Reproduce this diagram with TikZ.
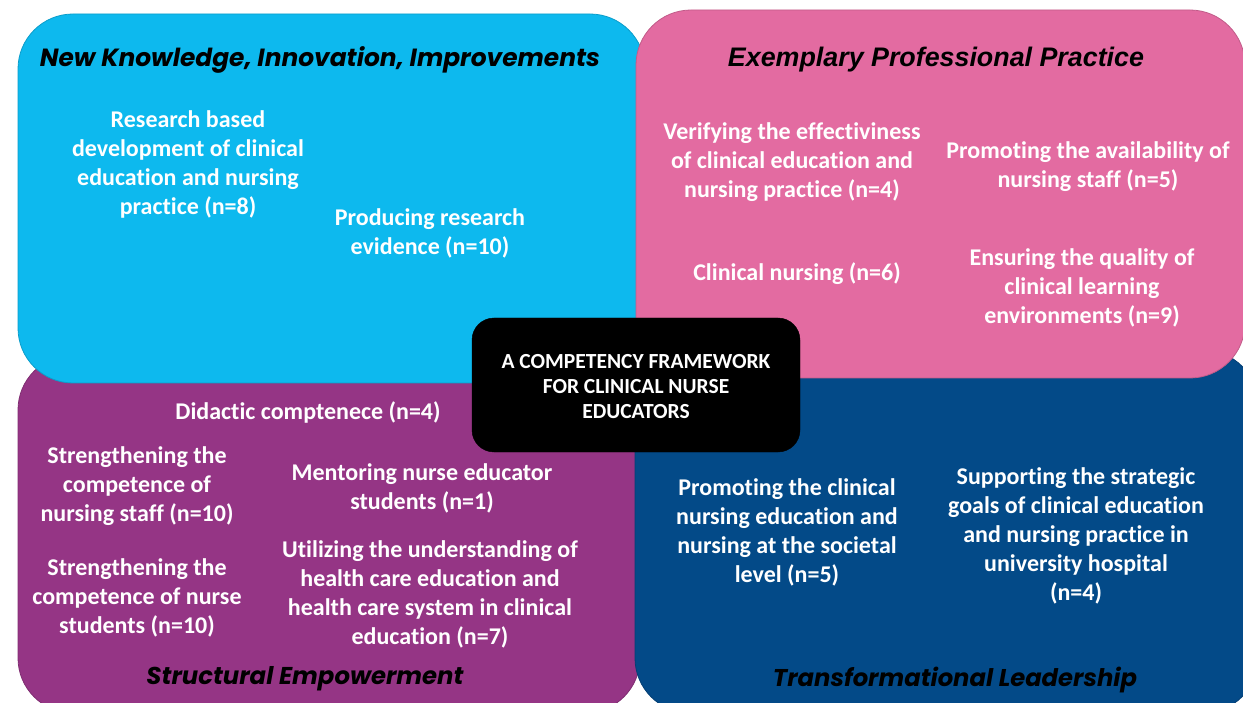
\documentclass[tikz,border=0pt]{standalone}
\usepackage{fontspec}
\setmainfont{Carlito}[Ligatures=CommonOff]
\newfontfamily\gothic{Poppins}
\newfontfamily\arialf{Liberation Sans}
\definecolor{cyanbox}{RGB}{13,185,238}
\definecolor{pinkbox}{RGB}{227,107,161}
\definecolor{purplebox}{RGB}{149,53,133}
\definecolor{bluebox}{RGB}{3,74,136}
\tikzset{
  quad/.style={line width=0.8pt, rounded corners=55pt},
  item/.style={text=white, font=\fontsize{24}{29}\selectfont\bfseries, align=center, inner sep=0pt},
  hdr/.style={text=black, inner sep=0pt},
  centerbox/.style={fill=black, rounded corners=22pt},
  centertext/.style={text=white, font=\fontsize{21.5}{25}\selectfont\bfseries, align=center, inner sep=0pt}
}
\newcommand{\hdrtext}[3]{\resizebox{#1pt}{!}{#2\bfseries\itshape #3}}
\begin{document}
\begin{tikzpicture}[x=1pt,y=-1pt]
\useasboundingbox (0,0) rectangle (1243,703);
% quadrants
\draw[quad, fill=purplebox, draw=purplebox!85!black] (18,355) rectangle (640,713);
\draw[quad, fill=bluebox, draw=bluebox!85!black] (635,350) rectangle (1258,713);
\draw[quad, fill=cyanbox, draw=cyanbox!85!black] (18,14) rectangle (645,383);
\draw[quad, fill=pinkbox, draw=pinkbox!85!black] (636,10) rectangle (1245,378);
% center
\draw[centerbox] (472,318) rectangle (800,452);
\node[centertext] (center) at (636,387) {A COMPETENCY FRAMEWORK\\FOR CLINICAL NURSE\\EDUCATORS};
% headers
\node[hdr] (h1) at (320,60) {\hdrtext{560}{\gothic}{New Knowledge, Innovation, Improvements}};
\node[hdr] (h2) at (936,60) {\hdrtext{416}{\arialf}{Exemplary Professional Practice}};
\node[hdr] (h3) at (305,679) {\hdrtext{317}{\gothic}{Structural Empowerment}};
\node[hdr] (h4) at (955,680) {\hdrtext{364}{\gothic}{Transformational Leadership}};
% items
\node[item] (i1) at (188,164) {Research based\\development of clinical\\education and nursing\\practice (n=8)};
\node[item] (i2) at (430,233) {Producing research\\evidence (n=10)};
\node[item] (i3) at (792,162) {Verifying the effectiviness\\of clinical education and\\nursing practice (n=4)};
\node[item] (i4) at (1088,167) {Promoting the availability of\\nursing staff (n=5)};
\node[item] (i5) at (797,274) {Clinical nursing (n=6)};
\node[item] (i6) at (1082,288) {Ensuring the quality of\\clinical learning\\environments (n=9)};
\node[item] (i7) at (308,412) {Didactic comptenece (n=4)};
\node[item] (i8) at (137,486) {Strengthening the\\competence of\\nursing staff (n=10)};
\node[item] (i9) at (422,488) {Mentoring nurse educator\\students (n=1)};
\node[item] (i10) at (137,598) {Strengthening the\\competence of nurse\\students (n=10)};
\node[item] (i11) at (430,594) {Utilizing the understanding of\\health care education and\\health care system in clinical\\education (n=7)};
\node[item] (i12) at (787,532) {Promoting the clinical\\nursing education and\\nursing at the societal\\level (n=5)};
\node[item] (i13) at (1076,536) {Supporting the strategic\\goals of clinical education\\and nursing practice in\\university hospital\\(n=4)};
\end{tikzpicture}
\end{document}
